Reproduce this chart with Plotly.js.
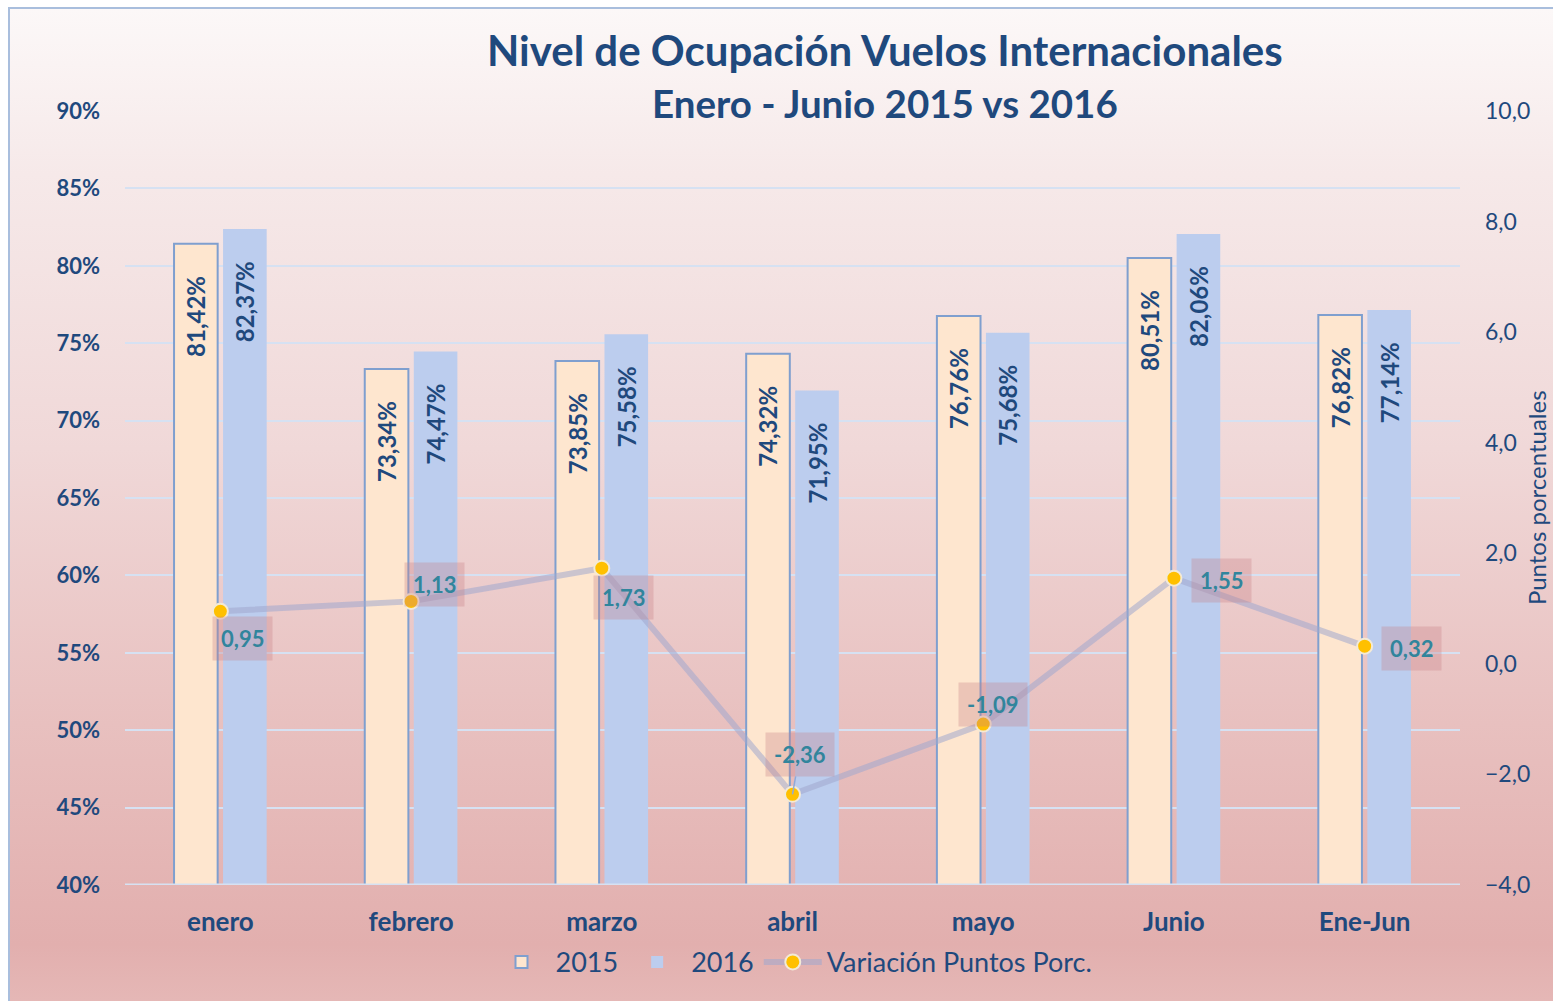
<!DOCTYPE html>
<html>
<head>
<meta charset="utf-8">
<script src="https://cdn.plot.ly/plotly-3.0.1.min.js"></script>
<style>
  html, body { margin: 0; padding: 0; width: 1553px; height: 1001px; overflow: hidden; background: #ffffff; }
  #frame {
    position: absolute; left: 8px; top: 7px; width: 1600px; height: 1100px;
    border-left: 2px solid #a9bedd; border-top: 2px solid #a9bedd;
    background: linear-gradient(to bottom, #fcf8f8 0%, #f6e9e9 15%, #f0d8d8 40%, #e8c0bf 65%, #e2afae 85%, #ebc7c5 100%);
  }
  #chart { position: absolute; left: 0; top: 0; width: 1553px; height: 1001px; }
</style>
</head>
<body>
<div id="frame"></div>
<div id="chart"></div>
<script>
// ---- data ----
const categories = ['enero', 'febrero', 'marzo', 'abril', 'mayo', 'Junio', 'Ene-Jun'];
const ocup2015 = [81.42, 73.34, 73.85, 74.32, 76.76, 80.51, 76.82];
const ocup2016 = [82.37, 74.47, 75.58, 71.95, 75.68, 82.06, 77.14];
const variacion = [0.95, 1.13, 1.73, -2.36, -1.09, 1.55, 0.32];
const seriesNames = ['2015', '2016', 'Variación Puntos Porc.'];
const titleText = 'Nivel de Ocupación Vuelos Internacionales';
const subtitleText = 'Enero - Junio 2015 vs 2016';
const rightAxisTitle = 'Puntos porcentuales';

// ---- styling (label placement offsets in pixels) ----
const labelShift = [
  {dx: 22, dy: -27}, {dx: 23, dy: 17}, {dx: 22, dy: -29}, {dx: 7, dy: 40, arrow: true},
  {dx: 10, dy: 20}, {dx: 48, dy: -2}, {dx: 47, dy: -2}
];

const navy = '#1f497d';
const font = 'Lato, "Open Sans", sans-serif';
const pad = '\u00a0\u00a0\u00a0\u00a0\u00a0';

const fmt = v => v.toFixed(2).replace('.', ',');

const trace2015 = {
  type: 'bar', name: seriesNames[0], x: categories, y: ocup2015,
  marker: {color: '#fee6cf', line: {color: '#7f9fcf', width: 2}},
  text: ocup2015.map(v => fmt(v) + '%' + pad),
  textposition: 'inside', insidetextanchor: 'end', textangle: -90,
  insidetextfont: {family: font, size: 24, color: navy, weight: 'bold'},
  hoverinfo: 'skip'
};
const trace2016 = {
  type: 'bar', name: seriesNames[1], x: categories, y: ocup2016,
  marker: {color: '#bccdee', line: {color: '#b3c6ec', width: 0}},
  text: ocup2016.map(v => fmt(v) + '%' + pad),
  textposition: 'inside', insidetextanchor: 'end', textangle: -90,
  insidetextfont: {family: font, size: 24, color: navy, weight: 'bold'},
  hoverinfo: 'skip'
};
const traceVar = {
  type: 'scatter', mode: 'lines+markers', name: seriesNames[2], x: categories, y: variacion,
  yaxis: 'y2',
  line: {color: 'rgba(160,168,205,0.55)', width: 6},
  marker: {color: '#ffc000', size: 15, line: {color: '#f3ead6', width: 2}},
  hoverinfo: 'skip'
};

const annotations = variacion.map((v, i) => {
  const s = labelShift[i];
  const a = {
    x: categories[i], y: v, xref: 'x', yref: 'y2',
    text: fmt(v),
    font: {family: font, size: 22, color: '#31859c', weight: 'bold'},
    bgcolor: 'rgba(200,128,135,0.32)', borderpad: 8
  };
  if (s.arrow) {
    Object.assign(a, {showarrow: true, ax: s.dx, ay: -s.dy, arrowhead: 0, arrowwidth: 1.5, arrowcolor: '#8eaadb', standoff: 0});
  } else {
    Object.assign(a, {showarrow: false, xshift: s.dx, yshift: s.dy});
  }
  return a;
});

annotations.push({
  text: titleText, xref: 'paper', yref: 'paper', x: 0.5693, y: 1.0788,
  xanchor: 'center', yanchor: 'middle', showarrow: false,
  font: {family: font, size: 42, color: navy, weight: 'bold'}
});
annotations.push({
  text: subtitleText, xref: 'paper', yref: 'paper', x: 0.5693, y: 1.0103,
  xanchor: 'center', yanchor: 'middle', showarrow: false,
  font: {family: font, size: 38.5, color: navy, weight: 'bold'}
});
annotations.push({
  text: rightAxisTitle, xref: 'paper', yref: 'paper', x: 1.057, y: 0.5,
  xanchor: 'center', yanchor: 'middle', textangle: -90, showarrow: false,
  font: {family: font, size: 24, color: navy}
});

const layout = {
  width: 1553, height: 1001,
  paper_bgcolor: 'rgba(0,0,0,0)', plot_bgcolor: 'rgba(0,0,0,0)',
  margin: {l: 125, r: 93, t: 111, b: 116},
  separators: ',.',
  showlegend: true,
  barmode: 'group', bargap: 0.486, bargroupgap: 0.11,
  xaxis: {
    type: 'category', range: [-0.5, 6.5],
    showgrid: false, zeroline: false, showline: false, ticks: '',
    tickfont: {family: font, size: 26, color: navy, weight: 'bold'},
    ticklabelstandoff: 19
  },
  yaxis: {
    range: [40, 90], dtick: 5, ticksuffix: '%', tickformat: 'd',
    showgrid: true, gridcolor: '#d6e1f2', gridwidth: 2,
    zeroline: false, showline: false, ticks: '',
    tickfont: {family: font, size: 22, color: navy, weight: 'bold'},
    ticklabelstandoff: 24
  },
  yaxis2: {
    overlaying: 'y', side: 'right',
    range: [-4, 10], dtick: 2, tickformat: '.1f',
    showgrid: false, zeroline: false, showline: false, ticks: '',
    tickfont: {family: font, size: 23, color: navy},
    ticklabelstandoff: 24
  },
  legend: {
    orientation: 'h', x: 0.5, xanchor: 'center', y: -0.1, yanchor: 'middle',
    font: {family: font, size: 27, color: navy},
    itemwidth: 58,
    bgcolor: 'rgba(0,0,0,0)'
  },
  annotations: annotations,
  shapes: [{
    type: 'line', xref: 'paper', yref: 'y', x0: 0, x1: 1, y0: 40, y1: 40,
    line: {color: '#d6e1f2', width: 3}, layer: 'above'
  }]
};

Plotly.newPlot('chart', [trace2015, trace2016, traceVar], layout, {displayModeBar: false, staticPlot: true});
</script>
</body>
</html>
